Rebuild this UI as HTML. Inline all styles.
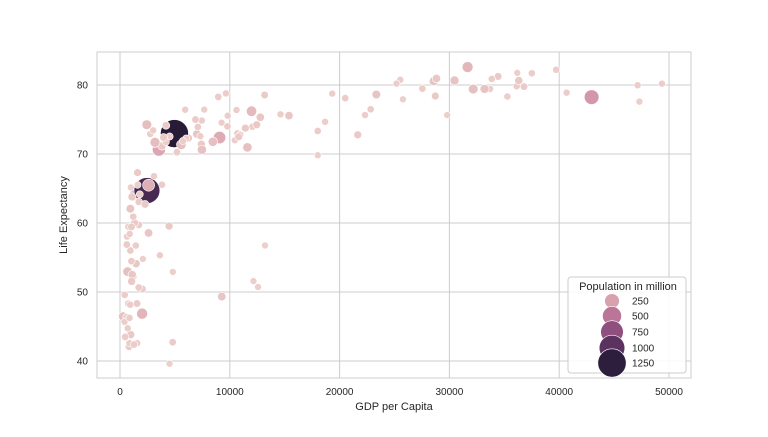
<!DOCTYPE html>
<html><head><meta charset="utf-8"><style>
body{margin:0;background:#fff;font-family:"Liberation Sans",sans-serif}
svg text{font-family:"Liberation Sans",sans-serif;fill:#262626}
</style></head><body>
<svg id="chart" width="768" height="432" xmlns="http://www.w3.org/2000/svg">
<rect width="768" height="432" fill="#fff"/>
<g id="grid"></g>
<g id="axes"></g>
<g id="points"></g>
<rect x="97" y="52" width="594" height="326" fill="none" stroke="#cccccc" stroke-width="1"/>
<text x="394" y="410" text-anchor="middle" font-size="11">GDP per Capita</text>
<text x="67" y="215" text-anchor="middle" font-size="11" transform="rotate(-90 67 215)">Life Expectancy</text>
<g id="legend"></g>
</svg>
<script>
const gdp=[974.6,5937,6223,4797,12779,34435,36126,29796,1391,33693,1441,3822,7446,12570,9066,10681,1217,430,1714,2042,36319,706,1704,13172,4959,7007,986,278,3633,9645,1545,14619,8948,22833,35278,2082,6025,6873,5581,5728,12154,641,691,33207,30470,13206,753,32170,1328,27538,5186,943,579,1202,3548,39725,18009,36181,2452,3541,11606,4471,40676,25523,28570,7321,31656,4519,1463,1593,23348,47307,10461,1569,415,12057,1044,759,12452,1042,1803,10957,11978,3096,9254,3820,824,944,4811,1091,36798,25185,2749,620,2014,49357,22316,2606,9809,4173,7409,3190,15390,20510,19329,7670,10808,863,1598,21655,1712,9787,863,47143,18678,25768,926,9270,28821,3970,2602,4513,33860,37506,4185,28718,1107,7458,882,18009,7093,8458,1056,33203,42952,10611,11416,2442,3025,2281,1271,470];
const lifeExp=[43.83,76.42,72.30,42.73,75.32,81.24,79.83,75.64,64.06,79.44,56.73,65.55,74.85,50.73,72.39,73.0,52.30,49.58,59.72,50.43,80.65,44.74,50.65,78.55,72.96,72.89,65.15,46.46,55.32,78.78,48.33,75.75,78.27,76.49,78.33,54.79,72.24,74.99,71.34,71.88,51.58,58.04,52.95,79.31,80.66,56.74,59.45,79.41,60.02,79.48,70.26,56.01,46.39,60.92,70.20,82.21,73.34,81.76,64.70,70.65,70.96,59.55,78.89,80.75,80.55,72.57,82.60,72.54,54.11,67.30,78.62,77.59,71.99,42.59,45.68,73.95,59.44,48.30,74.24,54.47,64.16,72.80,76.20,66.80,74.54,71.16,42.08,62.07,52.91,63.79,79.76,80.20,72.90,56.87,46.86,80.20,75.64,65.48,75.54,71.75,71.42,71.69,75.56,78.10,78.75,76.44,72.48,46.24,65.53,72.78,63.06,74.00,42.57,79.97,74.66,77.93,48.16,49.34,80.94,72.40,58.56,39.61,80.88,81.70,74.14,78.40,52.52,70.62,58.42,69.82,73.92,71.78,51.54,79.43,78.24,76.38,73.75,74.25,73.42,62.70,42.38,43.49];
const pop=[31.9,3.6,33.3,12.4,40.3,20.4,8.2,0.7,150.4,10.4,8.1,9.1,4.6,1.6,190,7.3,14.3,8.4,14.1,17.7,33.4,4.4,10.2,16.3,1318.7,44.2,0.7,64.6,3.8,4.1,18.0,4.5,11.4,10.2,5.5,0.5,9.3,13.8,80.3,6.9,0.55,4.9,76.5,5.2,61.1,1.45,1.7,82.4,22.9,10.7,12.6,9.9,1.5,8.5,7.5,6.98,9.96,0.3,1110,223.5,69.5,27.5,4.1,6.4,58.1,2.8,127.5,6.05,35.6,23.3,49.0,2.5,3.9,2.0,3.2,6.0,19.2,13.3,24.8,12.0,3.3,1.25,108.7,2.9,0.68,33.8,19.95,47.8,2.05,28.9,16.6,4.1,5.7,12.9,135,4.6,3.2,169.3,3.2,6.7,28.7,91.1,38.5,10.6,3.9,0.8,22.3,8.9,0.2,27.6,12.3,10.2,6.1,4.55,5.4,2.0,9.1,44,40.4,20.4,42.3,1.1,9.0,7.55,19.3,23.2,38.1,65.1,5.7,1.06,10.3,71.2,29.2,60.8,301,3.45,26.1,85.3,4.0,22.2,11.7,12.3];
const xTicks=[0,10000,20000,30000,40000,50000];
const yTicks=[40,50,60,70,80];
const legendVals=[250,500,750,1000,1250];

const NS="http://www.w3.org/2000/svg";
const X=v=>120+v*0.01098;
const Y=v=>361-(v-40)*6.9;
const R=p=>Math.sqrt(12+p*0.14);
const stops=[[0,[236,206,202]],[0.19,[217,160,174]],[0.38,[187,117,151]],[0.57,[143,79,127]],[0.76,[92,50,96]],[0.95,[45,30,62]],[1,[40,27,56]]];
function col(p){const t=Math.min(1,p/1318.7);for(let i=1;i<stops.length;i++){if(t<=stops[i][0]){const a=stops[i-1],b=stops[i];const f=(t-a[0])/(b[0]-a[0]);return 'rgb('+a[1].map((c,k)=>Math.round(c+(b[1][k]-c)*f)).join(',')+')';}}return 'rgb(40,27,56)';}
function mk(tag,attrs,parent){const e=document.createElementNS(NS,tag);for(const k in attrs)e.setAttribute(k,attrs[k]);parent.appendChild(e);return e;}
const grid=document.getElementById('grid'),axes=document.getElementById('axes'),pts=document.getElementById('points'),leg=document.getElementById('legend');
xTicks.forEach(v=>{
 const l=mk('line',{x1:X(v),x2:X(v),y1:52,y2:378,stroke:'#cccccc','stroke-width':1},grid);
 
 
 const t=mk('text',{x:X(v),y:395,'text-anchor':'middle','font-size':10},axes);t.textContent=v;
 
 
});
yTicks.forEach(v=>{
 const l=mk('line',{x1:97,x2:691,y1:Y(v),y2:Y(v),stroke:'#cccccc','stroke-width':1},grid);
 
 
 const t=mk('text',{x:88,y:Y(v)+3.5,'text-anchor':'end','font-size':10},axes);t.textContent=v;
 
 
});
gdp.forEach((g,i)=>{
 const c=mk('circle',{cx:X(g),cy:Y(lifeExp[i]),r:R(pop[i]),fill:col(pop[i]),stroke:'#fff','stroke-width':0.6},pts);
 
 
});
const box=mk('rect',{x:568,y:277,width:118,height:96,rx:3,fill:'#fff','fill-opacity':0.85,stroke:'#cccccc'},leg);


const lt=mk('text',{x:628,y:290,'text-anchor':'middle','font-size':11},leg);lt.textContent='Population in million';


const ly=[301,316,332,348,363];
legendVals.forEach((v,i)=>{
 const c=mk('circle',{cx:612,cy:ly[i],r:R(v)+0.5,fill:col(v),stroke:'#fff','stroke-width':0.6},leg);
 
 
 const t=mk('text',{x:632,y:ly[i]+3.5,'font-size':10},leg);t.textContent=v;
 
 
});
</script>
</body></html>
